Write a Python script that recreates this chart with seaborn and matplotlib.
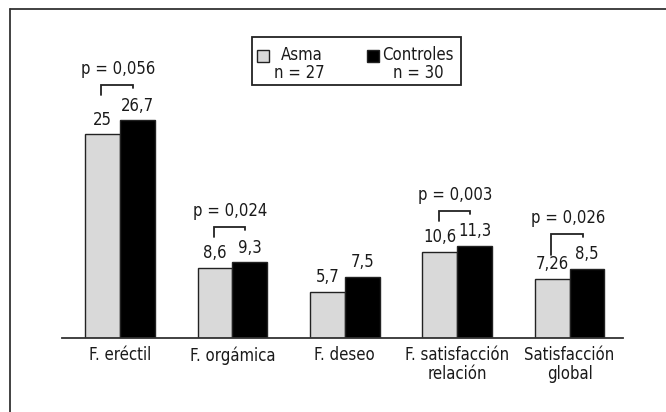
import matplotlib
matplotlib.use("Agg")
import matplotlib.pyplot as plt
from matplotlib.lines import Line2D
from matplotlib.patches import Rectangle
from matplotlib import font_manager
import seaborn as sns
import pandas as pd

# --- data -------------------------------------------------------------
categories = ["F. eréctil", "F. orgámica", "F. deseo",
              "F. satisfacción\nrelación", "Satisfacción\nglobal"]
groups = ["Asma", "Controles"]
group_n = ["n = 27", "n = 30"]
asma = [25, 8.6, 5.7, 10.6, 7.26]
controles = [26.7, 9.3, 7.5, 11.3, 8.5]
asma_labels = ["25", "8,6", "5,7", "10,6", "7,26"]
controles_labels = ["26,7", "9,3", "7,5", "11,3", "8,5"]
# p-values shown over the compared pairs (index of category, text)
p_index = [0, 1, 3, 4]
p_text = ["p = 0,056", "p = 0,024", "p = 0,003", "p = 0,026"]

df = pd.DataFrame({
    "categoria": categories * 2,
    "grupo": [groups[0]] * len(categories) + [groups[1]] * len(categories),
    "valor": asma + controles,
})

# --- style ------------------------------------------------------------
sns.set_theme(style="white")

# prefer a narrow sans face when one is available
narrow = None
for fam in ["Liberation Sans Narrow", "Noto Sans", "DejaVu Sans", "Open Sans", "Roboto"]:
    for f in font_manager.fontManager.ttflist:
        if (f.name == fam and f.style == "normal"
                and f.stretch in ("condensed", "semi-condensed")
                and f.weight in (400, "normal", "regular", "book")):
            narrow = f
            break
    if narrow:
        break
if narrow is not None:
    plt.rcParams["font.family"] = [narrow.name, "DejaVu Sans"]
    plt.rcParams["font.stretch"] = narrow.stretch
else:
    plt.rcParams["font.family"] = ["Roboto", "DejaVu Sans"]
FS = 12

TXT = "#1a1a1a"
colors = ["#d9d9d9", "#000000"]

W, H = 666, 412
fig = plt.figure(figsize=(W / 100, H / 100), dpi=100)


def fx(px):
    return px / W


def fy(py):
    return 1 - py / H


base_y = 338
ymax = 30
px_per_unit = 8.15
ax = fig.add_axes([fx(62), fy(base_y), fx(623) - fx(62), ymax * px_per_unit / H])

sns.barplot(data=df, x="categoria", y="valor", hue="grupo", hue_order=groups,
            palette=colors, width=0.62, edgecolor="#222222", linewidth=1.0,
            legend=False, ax=ax)

ax.set_xlim(-0.516, 4.475)
ax.set_ylim(0, ymax)
ax.set_xlabel("")
ax.set_ylabel("")
ax.set_yticks([])
for s in ["top", "right", "left"]:
    ax.spines[s].set_visible(False)
ax.spines["bottom"].set_color("#333333")
ax.spines["bottom"].set_linewidth(1.3)
ax.tick_params(axis="x", length=0, pad=6, labelsize=FS, labelcolor=TXT)
for lab in ax.get_xticklabels():
    lab.set_linespacing(1.05)

off = 0.155  # half of one bar's width in category units

# value labels above each bar
for i in range(len(categories)):
    ax.annotate(asma_labels[i], (i - off, asma[i]), xytext=(0, 10.5),
                textcoords="offset points", ha="center", va="center",
                fontsize=FS, color=TXT, annotation_clip=False)
    ax.annotate(controles_labels[i], (i + off, controles[i]), xytext=(0, 10.5),
                textcoords="offset points", ha="center", va="center",
                fontsize=FS, color=TXT, annotation_clip=False)

# significance brackets
for k, i in enumerate(p_index):
    top_v = max(asma[i], controles[i])
    y_top_px = ax.transData.transform((0, top_v))[1] + 35
    x_l = ax.transData.transform((i - off - 0.01, 0))[0]
    x_r = ax.transData.transform((i + off - 0.04, 0))[0]
    left_len = 21 if i == 4 else 10
    pts = [(x_l, y_top_px - left_len), (x_l, y_top_px), (x_r, y_top_px), (x_r, y_top_px - 3)]
    xs = [p[0] / W for p in pts]
    ys = [p[1] / H for p in pts]
    fig.add_artist(Line2D(xs, ys, transform=fig.transFigure, color="#222222",
                          lw=1.3, solid_joinstyle="miter"))
    fig.text(((x_l + x_r) / 2 + 1) / W, (y_top_px + 16) / H, p_text[k],
             ha="center", va="center", fontsize=FS, color=TXT)

# legend box
fig.add_artist(Rectangle((fx(252), fy(85)), fx(461) - fx(252), fy(37) - fy(85),
                         transform=fig.transFigure, fill=False,
                         edgecolor="#222222", lw=1.3))
sq = 12
for (sx, tx), c, g, n in zip([(257, 302), (367, 418)], colors, groups, group_n):
    fig.add_artist(Rectangle((fx(sx), fy(50 + sq)), sq / W, sq / H,
                             transform=fig.transFigure, facecolor=c,
                             edgecolor="#222222", lw=1.0))
    fig.text(fx(tx), fy(55), g, ha="center", va="center", fontsize=FS, color=TXT)
    fig.text(fx(tx - 3 if g == "Asma" else tx), fy(73), n, ha="center",
             va="center", fontsize=FS, color=TXT)

# outer frame (top and left edges)
fig.add_artist(Line2D([fx(9.5), 1], [fy(8.5), fy(8.5)], transform=fig.transFigure,
                      color="#333333", lw=1.3))
fig.add_artist(Line2D([fx(9.5), fx(9.5)], [fy(8.5), 0], transform=fig.transFigure,
                      color="#333333", lw=1.3))

fig.savefig("out.png", dpi=100)
